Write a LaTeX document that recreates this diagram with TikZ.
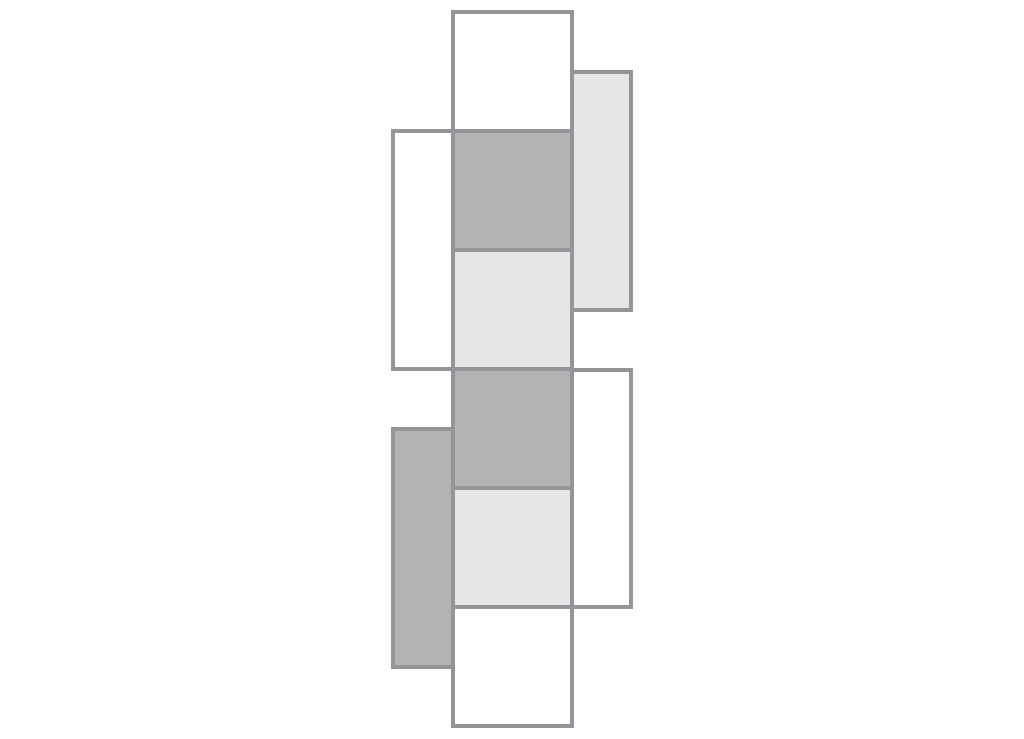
\documentclass[tikz,border=0pt]{standalone}
\usepackage{tikz}
\definecolor{edgegray}{HTML}{939598}
\definecolor{darkface}{HTML}{B3B3B3}
\definecolor{lightface}{HTML}{E6E6E6}
\def\Face#1#2#3#4#5{%
 \filldraw[face, fill=#5] (#1,#2) rectangle +(#3,#4);
}
\begin{document}
\begin{tikzpicture}[x=0.025cm, y=-0.025cm,
  face/.style={draw=edgegray, line width=2.6pt, line join=miter}]
\useasboundingbox (0,0) rectangle (1024,738);
% side flaps
\Face{572}{72}{59}{238}{lightface}
\Face{572}{370}{59}{237}{white}
\Face{393}{131}{60}{238}{white}
\Face{393}{429}{60}{238}{darkface}
% middle column
\Face{453}{12}{119}{119}{white}
\Face{453}{131}{119}{119}{darkface}
\Face{453}{250}{119}{119}{lightface}
\Face{453}{369}{119}{119}{darkface}
\Face{453}{488}{119}{119}{lightface}
\Face{453}{607}{119}{119}{white}
\end{tikzpicture}
\end{document}
